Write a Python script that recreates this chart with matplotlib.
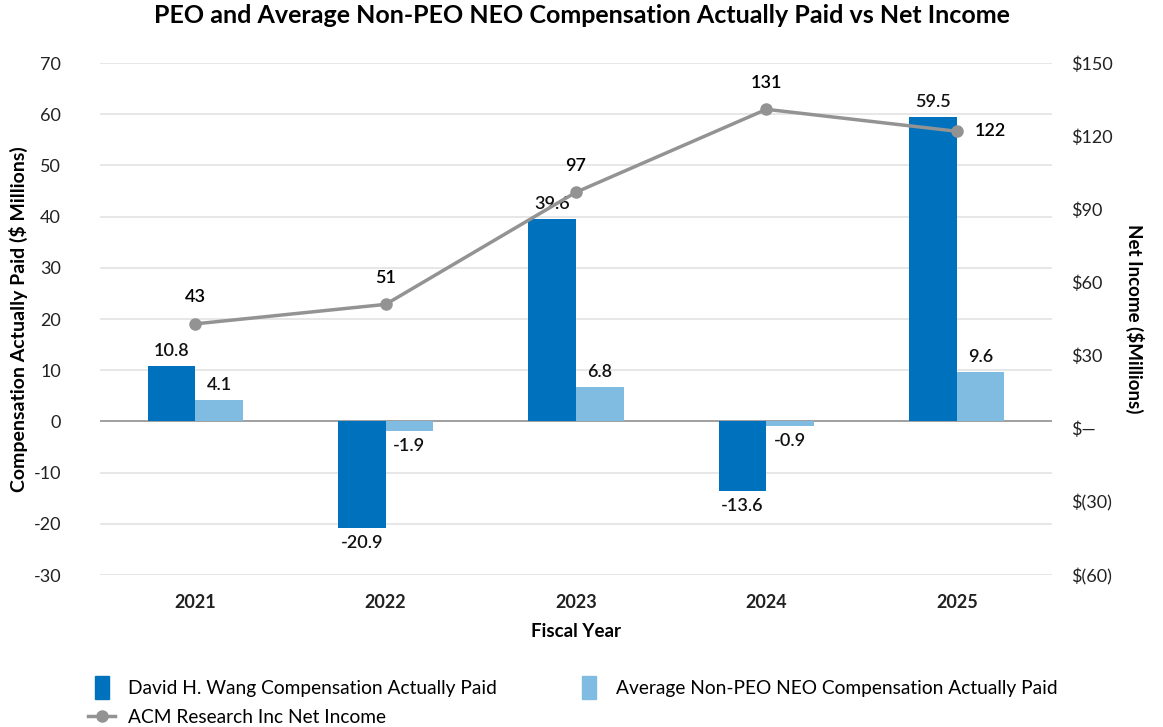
import numpy as np
import matplotlib.pyplot as plt
from matplotlib.patches import Rectangle
from matplotlib.legend_handler import HandlerPatch
from matplotlib.ticker import FuncFormatter

years = ["2021", "2022", "2023", "2024", "2025"]
peo_cap = [10.8, -20.9, 39.6, -13.6, 59.5]
neo_cap = [4.1, -1.9, 6.8, -0.9, 9.6]
net_income = [43, 51, 97, 131, 122]

dark_blue = "#0071BD"
light_blue = "#80BCE1"
line_gray = "#939393"

plt.rcParams['font.family'] = ['Lato', 'DejaVu Sans']
plt.rcParams['axes.unicode_minus'] = False

fig = plt.figure(figsize=(11.63, 7.27), dpi=100)
ax = fig.add_axes([100 / 1163, 1 - 575 / 727, 952 / 1163, 512 / 727])
ax2 = ax.twinx()

x = np.arange(len(years))
w = 0.25
b1 = ax.bar(x - w / 2, peo_cap, w, color=dark_blue, zorder=3)
b2 = ax.bar(x + w / 2, neo_cap, w, color=light_blue, zorder=3)
ax.bar_label(b1, labels=[f"{v:.1f}" for v in peo_cap], padding=5, fontsize=13, fontweight='semibold', color="#111111")
ax.bar_label(b2, labels=[f"{v:.1f}" for v in neo_cap], padding=5, fontsize=13, fontweight='semibold', color="#111111")

ax.set_xlim(-0.5, len(years) - 0.5)
ax.set_ylim(-30, 70)
ax.set_yticks(range(-30, 71, 10))
ax.grid(axis='y', color="#e3e3e3", linewidth=1.2, zorder=0)
ax.axhline(0, color="#9a9a9a", linewidth=1.3, zorder=2)
ax.set_xticks(x)
ax.set_xticklabels(years, fontweight='bold', fontsize=13)
ax.tick_params(axis='both', length=0, labelsize=13, colors="#222222")
ax.tick_params(axis='y', pad=28)
ax.tick_params(axis='x', pad=14)
ax.set_xlabel("Fiscal Year", fontweight='bold', fontsize=13.5, labelpad=8)
ax.set_ylabel("Compensation Actually Paid ($ Millions)", fontweight='bold', fontsize=14, labelpad=4)

ln, = ax2.plot(x, net_income, color=line_gray, linewidth=2.5, marker='o', markersize=8, zorder=4)
for i, v in enumerate(net_income):
    if i == len(net_income) - 1:
        ax2.annotate(str(v), (x[i], v), xytext=(24, 0), textcoords='offset points',
                     ha='center', va='center', fontsize=13, fontweight='semibold')
    else:
        ax2.annotate(str(v), (x[i], v), xytext=(0, 19), textcoords='offset points',
                     ha='center', va='center', fontsize=13, fontweight='semibold')

ax2.set_ylim(-60, 150)
ax2.set_yticks(range(-60, 151, 30))


def money(v, pos):
    if v == 0:
        return "$\u2014"
    if v < 0:
        return f"$({abs(int(v))})"
    return f"${int(v)}"


ax2.yaxis.set_major_formatter(FuncFormatter(money))
ax2.tick_params(axis='y', length=0, labelsize=13, colors="#222222", pad=14)
ax2.set_ylabel("Net Income ($Millions)", fontweight='bold', fontsize=13.5, rotation=270, labelpad=22)

for a in (ax, ax2):
    for s in a.spines.values():
        s.set_visible(False)

fig.suptitle("PEO and Average Non-PEO NEO Compensation Actually Paid vs Net Income",
             fontweight='bold', fontsize=18, y=0.995)


def narrow_box(legend, orig_handle, xdescent, ydescent, width, height, fontsize):
    return Rectangle((-xdescent + width / 2 - 5, -ydescent + height / 2 - 8), 10, 16)


h1 = Rectangle((0, 0), 1, 1, color=dark_blue)
h2 = Rectangle((0, 0), 1, 1, color=light_blue)
fig.legend([h1, ln, h2],
           ["David H. Wang Compensation Actually Paid", "ACM Research Inc Net Income",
            "Average Non-PEO NEO Compensation Actually Paid"],
           handler_map={Rectangle: HandlerPatch(patch_func=narrow_box)},
           loc='lower left', bbox_to_anchor=(71 / 1163, -0.022), ncol=2, frameon=False,
           fontsize=13.8, columnspacing=4.1, handlelength=1.4, handletextpad=0.7,
           labelspacing=0.6)

fig.savefig("out.png", dpi=100)
